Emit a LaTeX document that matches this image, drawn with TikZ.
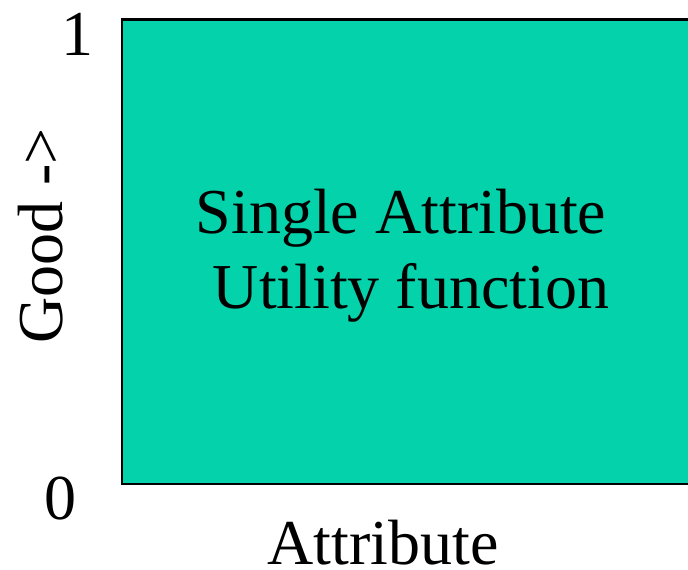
\documentclass[tikz,border=0pt]{standalone}
\usepackage{fontspec}
\setmainfont{Liberation Serif}
\definecolor{utilgreen}{RGB}{4,210,170}
\begin{document}
\begin{tikzpicture}[x=1pt,y=-1pt,line join=miter,
		lbl/.style={inner sep=0pt,anchor=base,font=\fontsize{64}{72}\selectfont}]
		\useasboundingbox (0,0) rectangle (688,570);
		\clip (0,0) rectangle (688,570);
		% utility area, runs off the right edge
		\draw[line width=2.5pt,fill=utilgreen] (700,19.5)--(122,19.5)--(122,484)--(700,484);
		\node[lbl] (utiltop) at (401,233) {Single Attribute};
		\node[lbl] (utilbot) at (403,308) {\hspace*{0.25em}Utility function};
		% axis labels
		\node[lbl] (one) at (77,55) {1};
		\node[lbl] (zero) at (60,519) {0};
		\node[lbl] (attr) at (383,564) {Attribute};
		\node[lbl,rotate=90] (good) at (62,236) {Good ->};
\end{tikzpicture}
\end{document}
